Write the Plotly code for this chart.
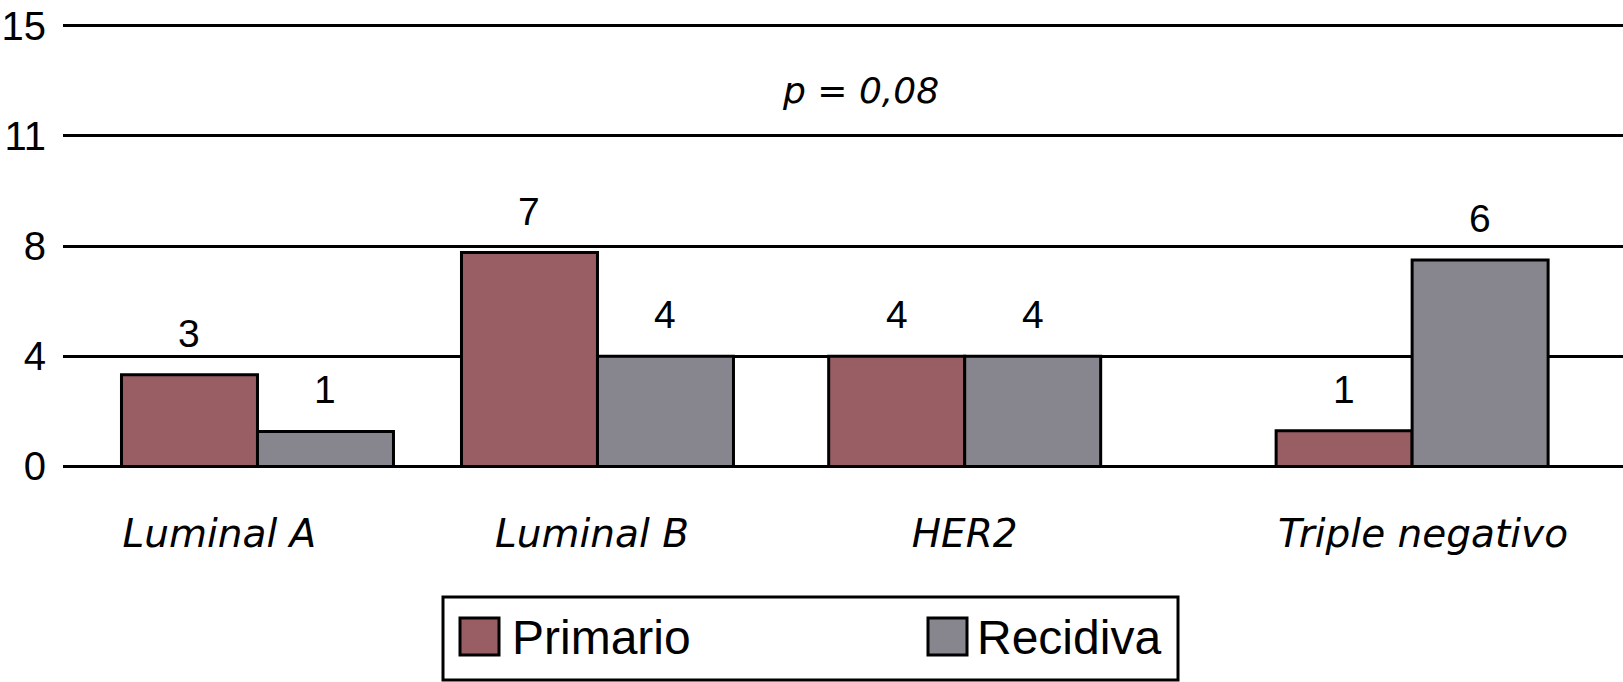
import plotly.graph_objects as go

# ---- data ----
categories = ["Luminal A", "Luminal B", "HER2", "Triple negativo"]
series_names = ["Primario", "Recidiva"]
primario_heights = [3.33, 7.76, 4.0, 1.3]
recidiva_heights = [1.27, 4.0, 4.0, 7.49]
primario_labels = ["3", "7", "4", "1"]
recidiva_labels = ["1", "4", "4", "6"]
y_tickvals = [0, 4, 8, 12, 16]
y_ticktext = ["0", "4", "8", "11", "15"]
p_text = "p = 0,08"

# ---- layout / style ----
group_slots = [1.43, 3.93, 6.63, 9.92]   # category slot centres on the x axis
label_slots = [1.15, 3.89, 6.63, 10.0]   # where the category names sit
colors = ["#995e63", "#87858e"]
num_font = "Liberation Sans, Arial, sans-serif"
ital_font = "DejaVu Sans, sans-serif"

fig = go.Figure()
heights = [primario_heights, recidiva_heights]
labels = [primario_labels, recidiva_labels]
offsets = [-1, 0]
for i, name in enumerate(series_names):
    fig.add_trace(go.Bar(
        x=group_slots, y=heights[i], name=name,
        width=1, offset=offsets[i],
        marker=dict(color=colors[i], line=dict(color="black", width=3)),
    ))

L, R, T, B = 63, 0, 20, 210
W, H = 1623, 682
pw, ph = W - L - R, H - T - B

def px(x):
    return (x - L) / pw

def py(y):
    return (H - B - y) / ph

annotations = []
# value labels above each bar
for i in range(2):
    for s, h, t in zip(group_slots, heights[i], labels[i]):
        annotations.append(dict(
            x=s + offsets[i] + 0.5, y=h, xref="x", yref="y", text=t,
            showarrow=False, xanchor="center", yanchor="bottom", yshift=18,
            font=dict(family=num_font, size=39, color="black")))

shapes = [
    dict(type="rect", xref="paper", yref="paper",
         x0=px(443), x1=px(1178), y0=py(680), y1=py(597),
         line=dict(color="black", width=3), fillcolor="white", layer="above"),
]
annotations.append(
    dict(text=p_text, xref="paper", yref="paper", x=px(861), y=py(90),
         showarrow=False, xanchor="center", yanchor="middle",
         font=dict(family=ital_font, size=36, style="italic", color="black")))
swatch_x = [460, 928]
text_x = [510, 975]
for i, name in enumerate(series_names):
    shapes.append(dict(type="rect", xref="paper", yref="paper",
                       x0=px(swatch_x[i]), x1=px(swatch_x[i] + 39),
                       y0=py(655), y1=py(618),
                       fillcolor=colors[i], line=dict(color="black", width=3),
                       layer="above"))
    annotations.append(dict(text=name, xref="paper", yref="paper",
                            x=px(text_x[i]), y=py(637), showarrow=False,
                            xanchor="left", yanchor="middle",
                            font=dict(family=num_font, size=48, color="black")))

fig.update_layout(
    width=W, height=H,
    margin=dict(l=L, r=R, t=T, b=B, autoexpand=False),
    paper_bgcolor="white", plot_bgcolor="white",
    barmode="overlay", showlegend=False,
    shapes=shapes, annotations=annotations,
    xaxis=dict(range=[0, pw / 136], tickvals=label_slots, ticktext=categories,
               showgrid=False, zeroline=False, showline=False, automargin=False,
               ticks="outside", ticklen=27, tickcolor="rgba(0,0,0,0)",
               tickfont=dict(family=ital_font, size=39, style="italic", color="black")),
    yaxis=dict(range=[-0.2, 16.2], tickvals=y_tickvals, ticktext=y_ticktext,
               showgrid=True, gridcolor="black", gridwidth=3, automargin=False,
               zeroline=True, zerolinecolor="black", zerolinewidth=3,
               showline=False, ticks="", ticklabelstandoff=16,
               tickfont=dict(family=num_font, size=40, color="black")),
)

fig.write_html("out.html",
               config={"displayModeBar": False},
               post_script="document.body.style.margin='0';document.body.style.padding='0';")
